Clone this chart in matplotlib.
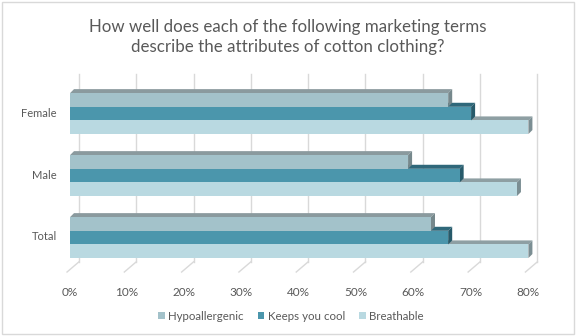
import matplotlib
matplotlib.use('Agg')
import matplotlib.pyplot as plt
from matplotlib.patches import Polygon, Rectangle, Patch

plt.rcParams['font.family'] = ['Lato', 'DejaVu Sans']

# survey results (percent)
categories = ['Total', 'Male', 'Female']
series = ['Hypoallergenic', 'Keeps you cool', 'Breathable']
hypoallergenic = [63, 59, 66]
keeps_cool = [66, 68, 70]
breathable = [80, 78, 80]
ticks = [0, 10, 20, 30, 40, 50, 60, 70, 80]
tick_labels = ['%d%%' % t for t in ticks]
title = ('How well does each of the following marketing terms\n'
         'describe the attributes of cotton clothing?')

# colours: front face, top face, side face
col_front = ['#a3c2ca', '#4b96ac', '#b9d9e1']
col_top = ['#8a9a9e', '#2f687a', '#8e9fa3']
col_side = ['#76888c', '#275a6a', '#7b8e93']
txt_col = '#595959'
grid_col = '#d9d9d9'

# 3d offsets in data units
bar_h = 0.22
dx_bar, dy_bar = 0.70, 0.065
dx_wall = 1.57
wall_top, wall_bot = 2.63, -0.40
dx_floor, floor_front = -0.52, -0.565


def bar3d(ax, y0, v, k):
    # front face, then top and side faces pushed back in depth
    y1 = y0 + bar_h
    top = [(0, y1), (v, y1), (v + dx_bar, y1 + dy_bar), (dx_bar, y1 + dy_bar)]
    side = [(v, y0), (v + dx_bar, y0 + dy_bar),
            (v + dx_bar, y1 + dy_bar), (v, y1)]
    ax.add_patch(Polygon(top, closed=True, fc=col_top[k], ec='none', zorder=3))
    ax.add_patch(Polygon(side, closed=True, fc=col_side[k], ec='none', zorder=3))
    ax.add_patch(Rectangle((0, y0), v, bar_h, fc=col_front[k], ec='none',
                           zorder=3))


fig = plt.figure(figsize=(5.76, 3.36), dpi=100)
# axes: x pixels 50..560, y pixels 60..300 (from top)
ax = fig.add_axes([50/576., 36/336., 510/576., 240/336.])
ax.set_xlim((50 - 70)/5.73, (560 - 70)/5.73)
ax.set_ylim((237 - 300)/62., (237 - 60)/62.)
ax.axis('off')

# back wall gridlines and floor lines
for t in ticks:
    ax.plot([t + dx_wall, t + dx_wall], [wall_bot, wall_top],
            color=grid_col, lw=1, zorder=1)
    ax.plot([t + dx_wall, t + dx_floor], [wall_bot, floor_front],
            color=grid_col, lw=1, zorder=1)

values = [hypoallergenic, keeps_cool, breathable]
offsets = [bar_h, 0, -bar_h]
for i in range(len(categories)):
    # lower bars first so the bar above hides their top face
    for k in [2, 1, 0]:
        bar3d(ax, i + offsets[k] - bar_h/2 - 0.01, values[k][i], k)
    ax.text(-2.27, i, categories[i], ha='right', va='center',
            fontsize=8, color=txt_col)

for t, lab in zip(ticks, tick_labels):
    ax.text(t - 0.1, -0.9, lab, ha='center', va='center',
            fontsize=8.5, color=txt_col)

fig.text(0.5, 1 - 37/336., title, ha='center', va='center',
         fontsize=12.2, color=txt_col, linespacing=1.3)

handles = [Patch(fc=col_front[k], ec='none', label=series[k]) for k in range(3)]
fig.legend(handles=handles, loc='center', bbox_to_anchor=(0.505, 1 - 316/336.),
           ncol=3, frameon=False, fontsize=8.3, labelcolor=txt_col,
           handlelength=0.6, handleheight=0.6, handletextpad=0.3,
           columnspacing=1.2)

# chart border
fig.patches.append(Rectangle((2/576., 2/336.), 572/576., 332/336.,
                             transform=fig.transFigure, fill=False,
                             ec=grid_col, lw=1))

fig.savefig('out.png', dpi=100)
